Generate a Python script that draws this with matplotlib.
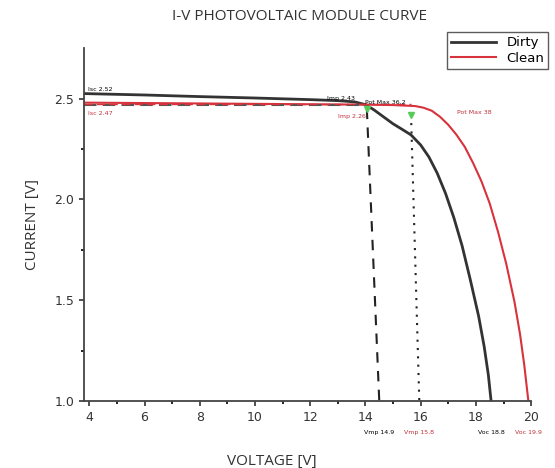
import matplotlib.pyplot as plt

# I-V points
dirty_v = [3.8, 6, 8, 10, 12, 13, 13.6, 14.0, 14.3, 14.6, 15.0, 15.3, 15.65, 16.0, 16.3, 16.6,
           16.9, 17.2, 17.5, 17.8, 18.1, 18.3, 18.45, 18.55]
dirty_i = [2.525, 2.518, 2.51, 2.503, 2.495, 2.49, 2.484, 2.47, 2.445, 2.415, 2.375, 2.35, 2.32,
           2.27, 2.21, 2.13, 2.03, 1.91, 1.77, 1.60, 1.42, 1.27, 1.13, 1.0]

clean_v = [3.8, 6, 8, 10, 12, 14, 15, 15.8, 16.1, 16.4, 16.7, 17.0, 17.3, 17.6, 17.9, 18.2,
           18.5, 18.8, 19.1, 19.4, 19.6, 19.75, 19.9]
clean_i = [2.48, 2.478, 2.476, 2.474, 2.472, 2.47, 2.468, 2.463, 2.455, 2.44, 2.41, 2.37, 2.32,
           2.26, 2.18, 2.09, 1.98, 1.84, 1.68, 1.49, 1.33, 1.18, 1.0]

# maximum power point guide lines (top, bottom)
dirty_mp_v = [14.05, 14.5]
dirty_mp_i = [2.45, 1.0]
clean_mp_v = [15.65, 15.95]
clean_mp_i = [2.42, 1.0]

labels_black = [("Isc 2.52", 3.95, 2.545), ("Imp 2.43", 12.6, 2.50), ("Pot Max 36.2", 14.0, 2.48)]
labels_red = [("Isc 2.47", 3.95, 2.425), ("Imp 2.26", 13.0, 2.41), ("Pot Max 38", 17.3, 2.43)]
bottom_labels = [("Vmp 14.9", 14.5, "black"), ("Vmp 15.8", 15.95, "#c0303a"),
                 ("Voc 18.8", 18.55, "black"), ("Voc 19.9", 19.9, "#c0303a")]

red = "#d8323c"

fig = plt.figure(figsize=(5.55, 4.68), dpi=100)
ax = fig.add_axes([0.151, 0.143, 0.806, 0.754])

ax.plot(dirty_v, dirty_i, color="#333333", lw=2, label="Dirty")
ax.plot(clean_v, clean_i, color=red, lw=1.5, label="Clean")

# horizontal dashed guides at Imp
ax.plot([3.8, 14.05], [2.47, 2.47], color="#555555", lw=1.5, ls=(0, (6, 3)))
ax.plot([3.8, 15.65], [2.475, 2.475], color=red, lw=1.0, ls=(0, (6, 3)))

ax.plot(dirty_mp_v, dirty_mp_i, color="#222222", lw=1.5, ls=(0, (5, 4)))
ax.plot(clean_mp_v, clean_mp_i, color="#222222", lw=1.5, ls=(0, (1, 3)))
ax.plot([dirty_mp_v[0], clean_mp_v[0]], [dirty_mp_i[0], clean_mp_i[0]], ls="none",
        marker="v", color="#55cc55", ms=4)

for txt, x, y in labels_black:
    ax.text(x, y, txt, fontsize=4.5, color="black", ha="left", va="center")
for txt, x, y in labels_red:
    ax.text(x, y, txt, fontsize=4.5, color="#c0303a", ha="left", va="center")
for txt, x, c in bottom_labels:
    ax.text(x, 0.845, txt, fontsize=4.5, color=c, ha="center", va="center")

ax.set_xlim(3.8, 20)
ax.set_ylim(1.0, 2.75)
ax.set_xticks([4, 6, 8, 10, 12, 14, 16, 18, 20])
ax.set_xticks([5, 7, 9, 11, 13, 15, 17, 19], minor=True)
ax.set_yticks([1.0, 1.5, 2.0, 2.5])
ax.set_yticks([1.25, 1.75, 2.25], minor=True)
ax.tick_params(labelsize=9, colors="#333333", width=1.2)
ax.tick_params(which="minor", length=2.5, width=1.2)
for s in ["top", "right"]:
    ax.spines[s].set_visible(False)
for s in ["left", "bottom"]:
    ax.spines[s].set_linewidth(1.3)
    ax.spines[s].set_color("#444444")

ax.set_xlabel("VOLTAGE [V]", family="Open Sans", fontsize=11, color="#333333")
ax.xaxis.set_label_coords(0.42, -0.15)
ax.set_ylabel("CURRENT [V]", family="Open Sans", fontsize=11, color="#333333", labelpad=10)
fig.text(0.54, 0.965, "I-V PHOTOVOLTAIC MODULE CURVE", family="Open Sans", fontsize=11,
         color="#333333", ha="center", va="center")

leg = fig.legend(loc="upper right", bbox_to_anchor=(1.0, 0.945), fontsize=9.5, fancybox=False,
                 edgecolor="#333333", handlelength=3.4, borderpad=0.3, labelspacing=0.2)
leg.get_frame().set_linewidth(1.0)

plt.savefig("out.png", dpi=100)
plt.close()
